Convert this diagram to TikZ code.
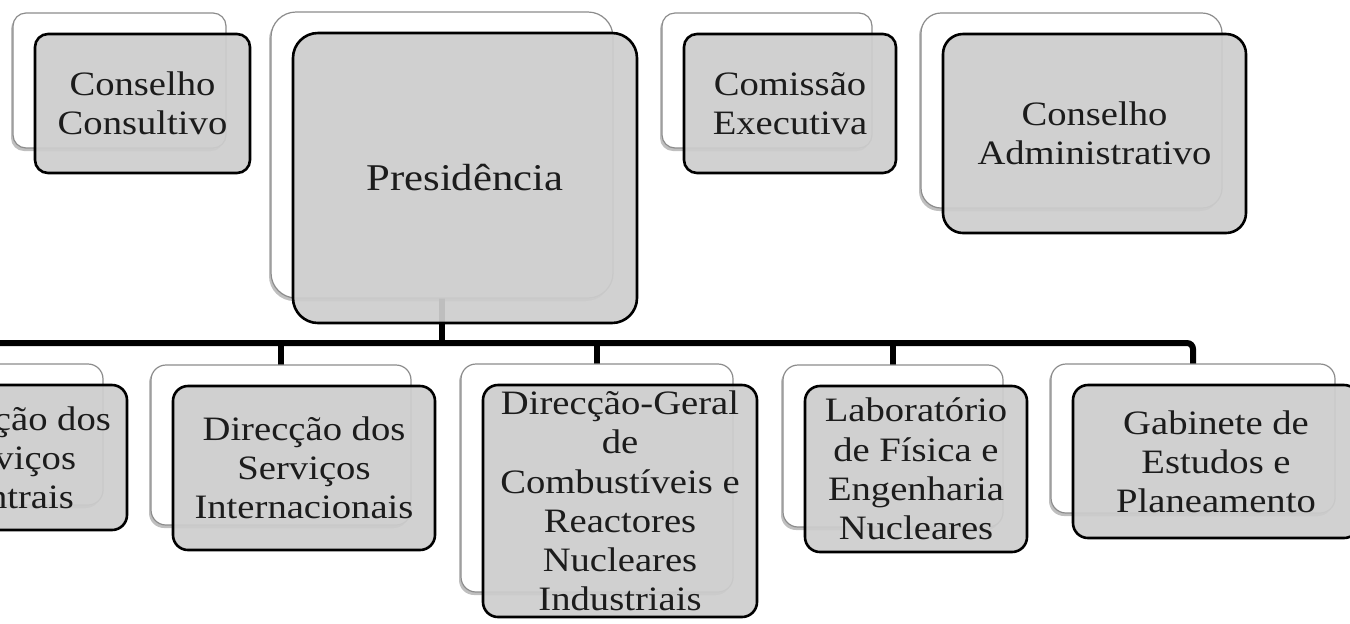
\documentclass[tikz,border=0pt]{standalone}
\usepackage{fontspec}
\setmainfont{Liberation Serif}[FakeStretch=1.13]
\usetikzlibrary{shadows}
\definecolor{frontfill}{RGB}{205,205,205}
\definecolor{backline}{RGB}{140,140,140}
\definecolor{txtcol}{RGB}{28,28,28}
\pgfdeclarelayer{bg}
\pgfsetlayers{bg,main}
% #1 name, #2 cx, #3 cy, #4 w, #5 h (px), #6 radius (pt), #7 font size (pt), #8 text
\newcommand\orgbox[8]{%
  \node[backbox, rounded corners=#6pt, minimum width={(#4-2)*0.5pt}, minimum height={(#5-4)*0.5pt}] (#1B) at ({#2-23},{#3-23}) {};
  \node[frontbox, rounded corners=#6pt, minimum width={#4*0.5pt}, minimum height={#5*0.5pt}, font=\fontsize{#7}{19.6}\selectfont] (#1F) at (#2,#3) {#8};
}
\begin{document}
\begin{tikzpicture}[x=0.5pt,y=-0.5pt,
  backbox/.style={draw=backline, line width=0.6pt, fill=white, inner sep=0pt, outer sep=0pt,
    drop shadow={shadow xshift=-1pt, shadow yshift=-1.5pt, opacity=0.25, fill=black}},
  frontbox/.style={draw=black, line width=1.3pt, fill=frontfill, fill opacity=0.93, text opacity=1,
    text=txtcol, align=center, inner sep=0pt, outer sep=0pt},
  conn/.style={draw=black, line width=3pt}]
\useasboundingbox (0,0) rectangle (1350,623);
\clip (0,0) rectangle (1350,623);
% top row
\orgbox{cc}{142.5}{103.5}{215}{139}{6.5}{17.1}{Conselho\\Consultivo}
\orgbox{pres}{465}{178}{344}{290}{12.5}{18.9}{Presidência}
\orgbox{ce}{790}{103.5}{212}{139}{6.5}{17.1}{Comissão\\Executiva}
\orgbox{ca}{1094.5}{133.5}{303}{199}{10}{17.1}{Conselho\\Administrativo}
% bottom row
\orgbox{dsc}{9.5}{457.5}{235}{145}{7.5}{17.1}{Direcção dos\\Serviços\\Centrais}
\orgbox{dsi}{304}{468}{262}{164}{7.5}{17.1}{Direcção dos\\Serviços\\Internacionais}
\orgbox{dg}{620}{501}{274}{232}{7.5}{17.1}{Direcção-Geral\\de\\Combustíveis e\\Reactores\\Nucleares\\Industriais}
\orgbox{lab}{916}{469}{222}{166}{7.5}{17.1}{Laboratório\\de Física e\\Engenharia\\Nucleares}
\orgbox{gab}{1216}{461.5}{286}{153}{7.5}{17.1}{Gabinete de\\Estudos e\\Planeamento}
% connectors
\coordinate (busL) at (-40,343);
\begin{pgfonlayer}{bg}
\draw[conn, rounded corners=3pt] (busL) -| (gabB.north);
\draw[conn] (presB.south) -- (presB.south |- busL);
\draw[conn] (dscB.north |- busL) -- (dscB.north);
\draw[conn] (dsiB.north |- busL) -- (dsiB.north);
\draw[conn] (dgB.north |- busL) -- (dgB.north);
\draw[conn] (labB.north |- busL) -- (labB.north);
\end{pgfonlayer}
\end{tikzpicture}
\end{document}
